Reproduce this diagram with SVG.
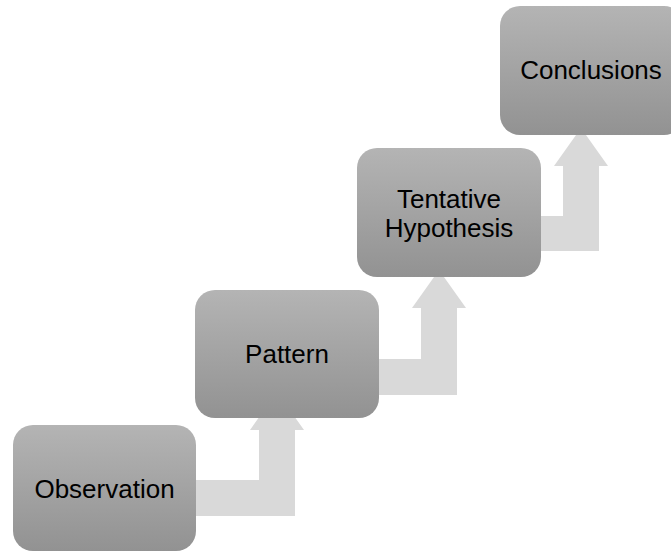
<svg xmlns="http://www.w3.org/2000/svg" width="671" height="551" viewBox="0 0 671 551">
  <defs>
    <linearGradient id="boxFill" x1="0" y1="0" x2="0" y2="1">
      <stop offset="0" stop-color="#b4b4b4"/>
      <stop offset="1" stop-color="#929292"/>
    </linearGradient>
    <style>
      .box { fill: url(#boxFill); }
      .arrow { fill: #d9d9d9; }
      .label { font-family: "Liberation Sans", Arial, sans-serif; font-size: 26px; fill: #000; text-anchor: middle; }
    </style>
  </defs>
  <rect width="671" height="551" fill="#ffffff"/>

  <!-- bent up-arrows linking each step to the next -->
  <g id="connectors">
    <path class="arrow" d="M180,480 H259 V430 H250 L277,392 L304,430 H295 V516 H180 Z"/>
    <path class="arrow" d="M360,359 H421 V308 H412 L439,270 L466,308 H457 V395 H360 Z"/>
    <path class="arrow" d="M520,216 H563 V166 H554 L581,128 L608,166 H599 V251 H520 Z"/>
  </g>

  <g id="observation">
    <rect class="box" x="13" y="425" width="183" height="126" rx="20"/>
    <text class="label" x="104.5" y="498">Observation</text>
  </g>

  <g id="pattern">
    <rect class="box" x="195" y="290" width="184" height="128" rx="20"/>
    <text class="label" x="287" y="363">Pattern</text>
  </g>

  <g id="hypothesis">
    <rect class="box" x="357" y="148" width="184" height="129" rx="20"/>
    <text class="label" x="449" y="208">Tentative</text>
    <text class="label" x="449" y="237">Hypothesis</text>
  </g>

  <g id="conclusions">
    <rect class="box" x="500" y="6" width="184" height="129" rx="20"/>
    <text class="label" x="591" y="79">Conclusions</text>
  </g>
</svg>
